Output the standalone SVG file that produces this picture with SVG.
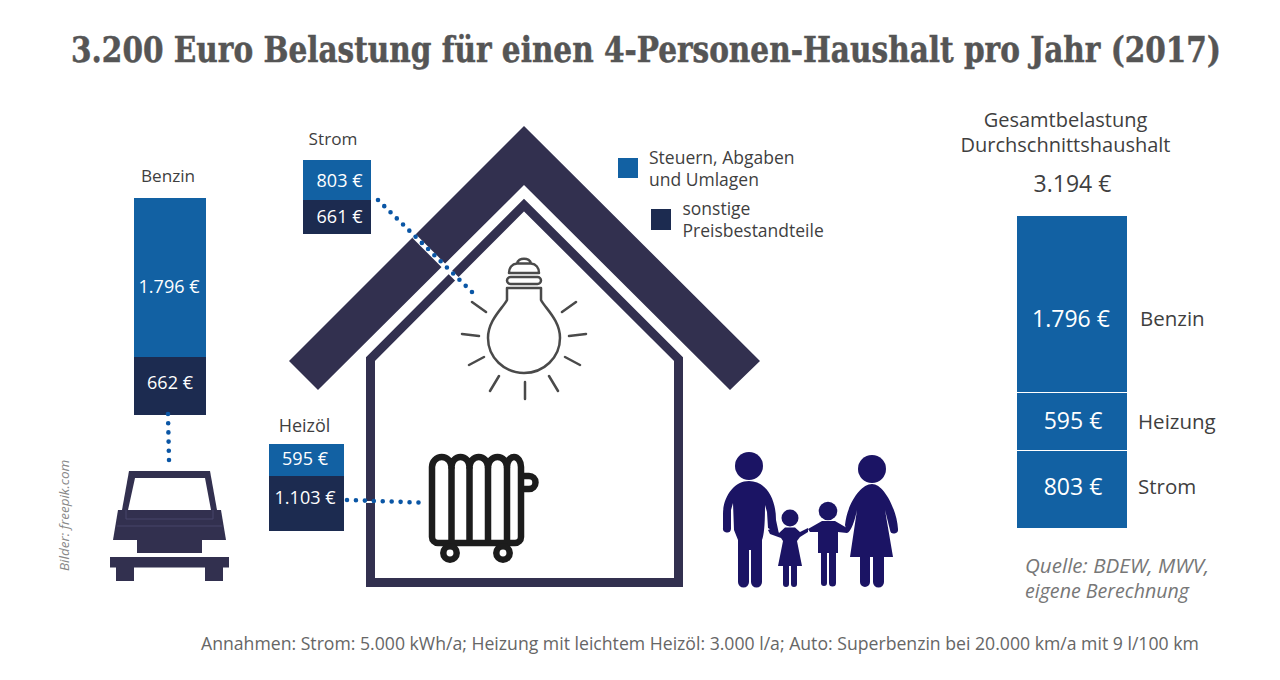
<svg xmlns="http://www.w3.org/2000/svg" width="1280" height="680" viewBox="0 0 1280 680">
<style>
text{font-family:"Open Sans","Noto Sans","Liberation Sans",sans-serif;fill:#3f3f3f}
.w{fill:#fff;text-anchor:middle;font-size:18px}
.W{fill:#fff;text-anchor:middle;font-size:23px}
.l{fill:#1261a3}.d{fill:#1c2b50}
.h{fill:#32304f}
.c{text-anchor:middle;font-size:17.2px}
.g{text-anchor:middle;font-size:20px}
.t{font-size:17.5px}
.q{font-size:20px;font-style:italic;fill:#777}
.dot{fill:none;stroke:#0a56a5;stroke-width:4.6;stroke-linecap:round}
.gap{fill:none;stroke:#fff;stroke-width:5}
.b{fill:none;stroke:#4a4a4a;stroke-width:2.5;stroke-linecap:round;stroke-linejoin:round}
.r{fill:none;stroke:#1c1c1c;stroke-width:6.5;stroke-linejoin:round}
.f{fill:#1b1464}
</style>
<rect width="1280" height="680" fill="#fff"/>
<text transform="translate(71,62) scale(.913,1)" style="font-family:'DejaVu Serif','Liberation Serif',serif;font-stretch:condensed;font-weight:700;font-size:36px;fill:#555;stroke:#555;stroke-width:.5">3.200 Euro Belastung für einen 4-Personen-Haushalt pro Jahr (2017)</text>
<g id="house">
<polygon class="h" points="524,126 760,361 730,390 524,185 318,390 289,361"/>
<path d="M370.5,582.5V359L524,205L678.5,359V582.5Z" fill="none" stroke="#32304f" stroke-width="9"/>
</g>
<g id="benzin-bar">
<text class="c" x="168" y="182">Benzin</text>
<rect class="l" x="134" y="198" width="72" height="159"/>
<rect class="d" x="134" y="357" width="72" height="58"/>
<text class="w" x="169" y="293">1.796 €</text>
<text class="w" x="170" y="389">662 €</text>
</g>
<g id="strom-bar">
<text class="c" x="333" y="145">Strom</text>
<rect class="l" x="303" y="160" width="68" height="40"/>
<rect class="d" x="303" y="200" width="68" height="34"/>
<text class="w" x="339.500" y="187">803 €</text>
<text class="w" x="339.500" y="223">661 €</text>
</g>
<g id="heizoel-bar">
<text class="c" x="304.500" y="432" style="font-size:18px">Heizöl</text>
<rect class="l" x="269" y="444" width="75" height="32"/>
<rect class="d" x="269" y="476" width="75" height="55"/>
<text class="w" x="305" y="465">595 €</text>
<text class="w" x="305" y="504">1.103 €</text>
</g>
<g id="connectors">
<path class="gap" d="M414,236L462,284"/>
<path d="M366,502H375" stroke="#fff" stroke-width="2" fill="none"/>
<path class="dot" stroke-dasharray="0 9.2" d="M168,414L169,460"/>
<path class="dot" stroke-dasharray="0 8.94" d="M347,500L418.500,502.500"/>
<path class="dot" stroke-dasharray="0 8.765" d="M378,200L472,292"/>
</g>
<g id="car">
<polygon class="h" points="129,471 210,471 217,510 122,510"/>
<polygon fill="#fff" points="135,478 205,478 211,510 128,510"/>
<polygon class="h" points="118,510 221,510 226,540 113,540"/>
<path d="M126,510V519H213V510M117,526H222" fill="none" stroke="#47456a" stroke-width="1"/>
<rect class="h" x="137" y="540" width="65" height="13"/>
<rect class="h" x="110" y="557" width="119" height="10.500"/>
<rect class="h" x="116" y="567" width="18" height="14"/>
<rect class="h" x="205" y="567" width="18" height="14"/>
</g>
<g id="bulb">
<path class="b" d="M507,288V300C503,308 488,320 488,338A36,35 0 0 0 560,338C560,320 545,308 541,300V288Z"/>
<rect class="b" x="507" y="277" width="34" height="7" rx="3.500"/>
<path class="b" d="M509,273C509,268 512,264 517,263.500H531C536,264 539,268 539,273ZM517,263.500C518,257 530,257 531,263.500"/>
<path class="b" d="M472,302L486,312M462,334L479,336M469,365L484,357M490,391L499,376M525,382V399M549,376L558,391M565,357L580,365M569,336L586,334M562,312L576,302"/>
</g>
<g id="radiator">
<path class="r" d="M432,467A9.750,10 0 0 1 451.500,467A9,10 0 0 1 469.500,467A9.250,10 0 0 1 488,467A9.500,10 0 0 1 507,467A7,10 0 0 1 521,467V537a6,6 0 0 1 -6,6H438a6,6 0 0 1 -6,-6Z"/>
<path class="r" d="M451.500,467V543M469.500,467V543M488,467V543M507,467V543M522,476h7a6.500,6.500 0 0 1 0,13h-7"/>
<circle class="r" cx="450" cy="553" r="6.700"/><circle class="r" cx="503" cy="553" r="6.700"/>
</g>
<g id="family" class="f">
<circle cx="749" cy="466" r="14"/>
<path d="M749,481C734,481 723,497 723,514V528a4,4 0 0 0 8,1V510L733,503L734,530L738,540V582a5.500,5.500 0 0 0 11,0V550H751V582a5.500,5.500 0 0 0 11,0V540C764,535 765,525 765,505L767,512L768,528C772,530 775,533 779,534L776,520C776,497 765,481 749,481Z"/>
<circle cx="790" cy="518" r="8.500"/>
<path d="M785,527.500H795L800,532L808,528L808,532L800,537L797,541L802,566H797V584a3,3 0 0 1 -6,0V566H789V584a3,3 0 0 1 -6,0V566H778L783,541L781,538L770,534L768,530L773,528L779,533Z"/>
<circle cx="828" cy="511" r="9.300"/>
<path d="M822,521H835L847,528V533L838,532V553H836V583a3,3 0 0 1 -7,0V553H827V583a3,3 0 0 1 -6,0V553H818V532L810,532L808,529Z"/>
<circle cx="872" cy="469" r="14"/>
<path d="M872,484C860,484 847,505 845,525L847,533C851,532 855,520 857,510L850,557H860V582a5,5 0 0 0 10,0V557H873V582a5,5 0 0 0 11,0V557H893L885,510L890,530a4,4 0 0 0 8,-1C897,510 884,484 872,484Z"/>
</g>
<g id="legend">
<rect class="l" x="618" y="158" width="20" height="20"/>
<rect class="d" x="651" y="209" width="20" height="21"/>
<text class="t" x="649" y="164">Steuern, Abgaben</text>
<text class="t" x="649" y="186">und Umlagen</text>
<text class="t" x="682.500" y="215">sonstige</text>
<text class="t" x="682.500" y="237">Preisbestandteile</text>
</g>
<g id="gesamt-bar">
<text class="g" x="1065.500" y="127">Gesamtbelastung</text>
<text class="g" x="1065.500" y="152">Durchschnittshaushalt</text>
<text class="g" x="1072.500" y="192" style="font-size:23px">3.194 €</text>
<rect class="l" x="1017" y="216" width="110" height="176"/>
<rect class="l" x="1017" y="393" width="110" height="57"/>
<rect class="l" x="1017" y="451" width="110" height="77"/>
<text class="W" x="1071" y="327">1.796 €</text>
<text class="W" x="1073" y="429">595 €</text>
<text class="W" x="1073" y="495">803 €</text>
<text x="1140" y="326" font-size="20.500">Benzin</text>
<text x="1138" y="429" font-size="20.500">Heizung</text>
<text x="1138" y="494" font-size="20.500">Strom</text>
</g>
<text class="q" x="1025" y="573" style="font-size:20.600px">Quelle: BDEW, MWV,</text>
<text class="q" x="1025" y="598" style="font-size:19.600px">eigene Berechnung</text>
<text x="201" y="650" style="font-size:17.650px;fill:#666">Annahmen: Strom: 5.000 kWh/a; Heizung mit leichtem Heizöl: 3.000 l/a; Auto: Superbenzin bei 20.000 km/a mit 9 l/100 km</text>
<text transform="translate(69,571) rotate(-90)" style="font-size:13.500px;font-style:italic;fill:#888">Bilder: freepik.com</text>
</svg>
